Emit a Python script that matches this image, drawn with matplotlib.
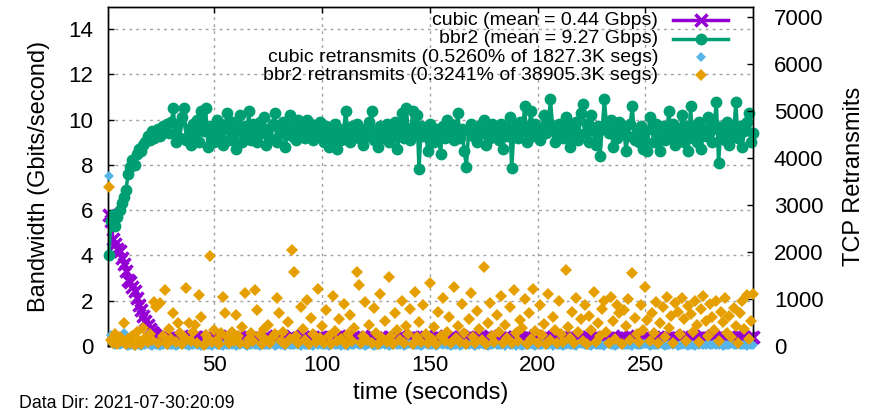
import numpy as np
import matplotlib
matplotlib.use("Agg")
import matplotlib.pyplot as plt

plt.rcParams['font.family'] = ['Liberation Sans', 'DejaVu Sans']

# ---------------- data ----------------
seconds = np.arange(1, 301)

cubic_gbps = [
    5.8, 5.5, 4.7, 4.5, 4.3, 4.2, 3.9, 3.6, 3.3, 2.9,
    2.8, 2.6, 2.4, 2.1, 1.8, 1.6, 1.3, 1.1, 0.9, 0.75,
    0.6, 0.5, 0.45, 0.4, 0.35, 0.3, 0.38, 0.3, 0.33, 0.28,
    0.32, 0.28, 0.36, 0.30, 0.41, 0.27, 0.34, 0.38, 0.29, 0.33,
    0.40, 0.31, 0.26, 0.35, 0.30, 0.37, 0.28, 0.42, 0.32, 0.29,
    0.35, 0.39, 0.27, 0.33, 0.30, 0.36, 0.41, 0.28, 0.34, 0.31,
    0.29, 0.37, 0.33, 0.26, 0.40, 0.32, 0.35, 0.28, 0.38, 0.30,
    0.34, 0.27, 0.36, 0.42, 0.31, 0.29, 0.35, 0.33, 0.39, 0.28,
    0.32, 0.37, 0.30, 0.34, 0.27, 0.41, 0.33, 0.29, 0.36, 0.31,
    0.38, 0.28, 0.35, 0.32, 0.30, 0.40, 0.27, 0.34, 0.37, 0.31,
    0.29, 0.36, 0.33, 0.39, 0.28, 0.35, 0.31, 0.42, 0.30, 0.34,
    0.37, 0.29, 0.32, 0.36, 0.27, 0.40, 0.33, 0.30, 0.38, 0.31,
    0.35, 0.28, 0.41, 0.32, 0.34, 0.29, 0.37, 0.31, 0.36, 0.27,
    0.33, 0.39, 0.30, 0.35, 0.28, 0.42, 0.32, 0.36, 0.29, 0.34,
    0.31, 0.38, 0.27, 0.35, 0.33, 0.40, 0.30, 0.37, 0.28, 0.34,
    0.36, 0.29, 0.41, 0.32, 0.35, 0.30, 0.38, 0.27, 0.33, 0.37,
    0.31, 0.34, 0.28, 0.40, 0.32, 0.36, 0.29, 0.35, 0.42, 0.30,
    0.33, 0.38, 0.27, 0.34, 0.31, 0.37, 0.29, 0.41, 0.32, 0.35,
    0.30, 0.36, 0.33, 0.28, 0.39, 0.31, 0.35, 0.29, 0.37, 0.32,
    0.40, 0.27, 0.34, 0.36, 0.30, 0.38, 0.33, 0.29, 0.42, 0.31,
    0.35, 0.28, 0.37, 0.32, 0.34, 0.30, 0.39, 0.27, 0.36, 0.33,
    0.31, 0.41, 0.29, 0.35, 0.32, 0.37, 0.28, 0.34, 0.38, 0.30,
    0.36, 0.33, 0.27, 0.40, 0.31, 0.35, 0.29, 0.37, 0.32, 0.34,
    0.39, 0.28, 0.36, 0.31, 0.42, 0.30, 0.34, 0.27, 0.38, 0.33,
    0.35, 0.29, 0.37, 0.32, 0.30, 0.41, 0.28, 0.36, 0.34, 0.31,
    0.38, 0.33, 0.29, 0.35, 0.27, 0.40, 0.32, 0.37, 0.30, 0.34,
    0.36, 0.28, 0.42, 0.31, 0.35, 0.29, 0.38, 0.33, 0.27, 0.37,
    0.32, 0.39, 0.30, 0.34, 0.36, 0.28, 0.41, 0.31, 0.35, 0.33,
    0.29, 0.37, 0.32, 0.40, 0.30, 0.36, 0.27, 0.34, 0.38, 0.31,
    0.35, 0.33, 0.29, 0.41, 0.32, 0.37, 0.30, 0.36, 0.34, 0.38,
]

bbr2_gbps = [
    4.0, 5.5, 5.8, 5.3, 5.7, 6.0, 6.3, 6.6, 6.9, 7.6,
    7.9, 8.2, 8.0, 8.5, 8.7, 8.6, 8.9, 9.0, 9.3, 9.1,
    9.5, 9.2, 9.4, 9.6, 9.3, 9.7, 9.5, 9.8, 9.4, 9.9,
    10.5, 9.0, 9.8, 9.2, 10.1, 10.5, 9.1, 9.6, 8.9, 9.8,
    9.3, 10.0, 9.0, 10.4, 9.5, 10.5, 8.8, 9.7, 9.4, 9.0,
    10.0, 9.2, 9.8, 8.9, 9.6, 10.3, 9.1, 9.9, 9.4, 8.7,
    9.5, 10.2, 9.0, 9.7, 9.3, 10.4, 9.1, 9.8, 9.5, 9.0,
    9.9, 9.4, 10.1, 8.9, 9.6, 9.2, 9.8, 10.3, 9.0, 9.7,
    9.4, 9.9, 8.8, 9.6, 10.2, 9.3, 9.7, 9.1, 10.0, 9.5,
    9.6, 9.2, 10.0, 9.4, 9.8, 9.1, 9.6, 9.3, 9.9, 9.5,
    9.0, 9.7, 8.8, 9.4, 9.2, 9.8, 8.7, 9.5, 9.1, 9.6,
    10.4, 9.3, 9.0, 9.7, 9.4, 9.8, 9.2, 9.5, 8.9, 9.6,
    9.3, 9.9, 10.4, 9.1, 9.5, 8.8, 9.7, 9.2, 9.4, 9.8,
    9.0, 9.6, 9.3, 9.9, 8.7, 9.5, 10.3, 9.2, 10.5, 9.6,
    9.1, 10.4, 9.4, 10.2, 7.8, 9.7, 9.3, 9.6, 8.6, 9.8,
    9.4, 9.0, 9.6, 9.3, 8.5, 9.7, 9.2, 10.0, 9.4, 9.8,
    9.1, 9.5, 10.3, 9.2, 9.6, 8.6, 7.9, 9.5, 9.8, 9.3,
    9.6, 9.0, 9.7, 9.4, 10.0, 8.9, 9.5, 9.2, 9.8, 9.4,
    9.6, 9.1, 9.8, 8.7, 9.5, 9.3, 10.1, 7.85, 9.4, 9.7,
    9.2, 9.9, 9.5, 10.6, 9.0, 9.7, 10.4, 9.3, 9.8, 9.5,
    9.1, 9.6, 10.2, 9.4, 9.9, 10.9, 9.7, 9.0, 9.3, 9.8,
    9.5, 9.2, 10.1, 9.4, 8.8, 9.7, 9.3, 9.9, 9.1, 10.3,
    10.7, 9.4, 9.8, 9.0, 10.2, 9.5, 8.9, 9.7, 8.4, 9.6,
    10.9, 9.8, 9.4, 10.0, 8.8, 9.5, 9.2, 9.9, 9.4, 9.7,
    8.6, 9.3, 9.8, 10.6, 9.1, 9.4, 9.0, 9.7, 8.7, 9.5,
    8.6, 10.1, 9.6, 9.0, 9.8, 9.3, 8.6, 9.7, 9.1, 9.5,
    10.4, 9.2, 9.8, 8.9, 9.6, 9.3, 10.2, 9.0, 9.7, 8.6,
    10.6, 9.2, 9.7, 9.0, 9.9, 8.7, 9.6, 9.3, 10.1, 9.5,
    9.0, 9.8, 10.8, 8.1, 9.4, 9.7, 9.1, 9.9, 8.9, 9.6,
    9.3, 10.8, 9.2, 9.7, 8.8, 9.5, 9.9, 10.3, 9.0, 9.4,
]

cubic_retrans = [
    3610, 228, 45, 20, 60, 10, 30, 277, 15, 0,
    5, 20, 0, 35, 10, 0, 25, 15, 40, 5,
    0, 30, 10, 20, 0, 15, 35, 5, 25, 10,
    20, 0, 15, 30, 5, 40, 10, 0, 25, 15,
    35, 5, 20, 0, 30, 10, 15, 25, 0, 40,
    10, 25, 5, 0, 35, 15, 20, 10, 30, 0,
    15, 5, 40, 20, 0, 25, 10, 35, 5, 15,
    0, 30, 20, 10, 25, 5, 40, 0, 15, 30,
    25, 10, 0, 35, 15, 20, 5, 30, 10, 0,
    40, 15, 25, 5, 20, 0, 35, 10, 30, 15,
    5, 25, 0, 20, 40, 10, 15, 35, 0, 25,
    20, 0, 30, 15, 5, 35, 25, 10, 40, 0,
    10, 35, 15, 0, 25, 20, 5, 30, 15, 40,
    0, 20, 10, 30, 5, 25, 40, 0, 15, 35,
    30, 5, 25, 10, 20, 0, 15, 40, 25, 5,
    15, 40, 0, 25, 35, 10, 30, 5, 20, 0,
    25, 10, 35, 0, 15, 30, 20, 5, 40, 10,
    0, 30, 20, 40, 5, 15, 0, 25, 10, 35,
    20, 5, 15, 30, 0, 40, 10, 20, 35, 0,
    35, 15, 0, 10, 25, 5, 30, 15, 0, 20,
    10, 25, 40, 5, 15, 30, 0, 35, 20, 10,
    5, 0, 20, 35, 10, 25, 15, 0, 30, 40,
    30, 20, 5, 15, 0, 35, 25, 10, 5, 20,
    0, 40, 30, 20, 10, 0, 15, 30, 25, 5,
    15, 10, 25, 0, 40, 20, 5, 15, 35, 30,
    40, 0, 10, 25, 20, 15, 35, 5, 0, 25,
    5, 30, 15, 35, 0, 10, 20, 40, 15, 0,
    20, 15, 0, 30, 5, 35, 10, 25, 40, 15,
    10, 35, 20, 5, 30, 0, 25, 15, 10, 35,
    25, 5, 40, 15, 10, 20, 0, 30, 5, 20,
]

bbr2_retrans = [
    3380, 120, 60, 250, 40, 180, 90, 476, 30, 150,
    60, 210, 20, 300, 100, 40, 380, 160, 70, 250,
    120, 930, 830, 60, 910, 200, 1185, 40, 350, 150,
    690, 80, 483, 260, 30, 190, 1228, 483, 110, 300,
    440, 60, 1079, 617, 20, 230, 150, 1908, 80, 340,
    120, 40, 260, 1043, 690, 180, 50, 300, 100, 653,
    200, 60, 400, 1115, 30, 150, 280, 90, 1185, 760,
    220, 40, 350, 130, 440, 60, 180, 250, 1015, 690,
    100, 300, 40, 500, 150, 2040, 1570, 200, 60, 820,
    350, 120, 980, 30, 600, 250, 80, 1200, 160, 420,
    60, 750, 200, 40, 1050, 310, 90, 560, 150, 880,
    30, 240, 660, 100, 380, 1570, 1290, 50, 200, 930,
    120, 450, 60, 800, 280, 30, 1100, 170, 520, 70,
    1460, 200, 40, 690, 330, 120, 950, 60, 410, 240,
    780, 30, 1150, 180, 500, 80, 860, 250, 60, 1330,
    140, 390, 40, 720, 200, 1010, 90, 300, 620, 50,
    1240, 160, 420, 70, 880, 280, 30, 560, 1130, 190,
    60, 740, 350, 120, 1670, 40, 480, 900, 210, 80,
    650, 300, 1060, 50, 430, 170, 820, 60, 1180, 260,
    90, 540, 380, 1000, 40, 700, 150, 1210, 310, 60,
    860, 220, 470, 30, 1090, 130, 610, 340, 60, 950,
    250, 80, 1606, 400, 160, 720, 50, 1020, 290, 560,
    110, 870, 40, 640, 330, 1140, 70, 480, 200, 790,
    950, 300, 60, 1040, 520, 150, 870, 690, 40, 760,
    420, 1000, 130, 1540, 600, 250, 80, 866, 330, 1255,
    540, 100, 700, 280, 930, 60, 480, 820, 190, 1043,
    370, 640, 50, 900, 720, 240, 1010, 560, 110, 850,
    680, 300, 960, 450, 70, 790, 1060, 520, 200, 880,
    610, 340, 950, 90, 720, 500, 1020, 260, 640, 180,
    800, 420, 60, 690, 960, 350, 1079, 150, 520, 1100,
]

legend_labels = [
    "cubic (mean = 0.44 Gbps)",
    "bbr2 (mean = 9.27 Gbps)",
    "cubic retransmits (0.5260% of 1827.3K segs)",
    "bbr2 retransmits (0.3241% of 38905.3K segs)",
]
x_ticks = [50, 100, 150, 200, 250]
y_ticks = [0, 2, 4, 6, 8, 10, 12, 14]
y2_ticks = [0, 1000, 2000, 3000, 4000, 5000, 6000, 7000]
data_dir_text = "Data Dir: 2021-07-30:20:09"

# ---------------- style ----------------
c_cubic = '#9400d3'
c_bbr2 = '#009e73'
c_cret = '#56b4e9'
c_bret = '#e69f00'

fig = plt.figure(figsize=(8.79, 4.12), dpi=100)
ax = fig.add_axes([0.12253, 0.16092, 0.73413, 0.82282])
ax2 = ax.twinx()

ax.set_xlim(0.5, 300)
ax.set_ylim(0, 15)
ax2.set_ylim(0, 7213)

ax.set_axisbelow(True)
ax.grid(True, color='#a0a0a0', linestyle=(0, (2, 3)), linewidth=1.0)

st_cubic = dict(color=c_cubic, lw=2.5, marker='x', ms=8, mew=2.5)
st_bbr2 = dict(color=c_bbr2, lw=2.5, marker='o', ms=8.5, mew=0)
st_cret = dict(color=c_cret, linestyle='none', marker='D', ms=5.5, mew=0)
st_bret = dict(color=c_bret, linestyle='none', marker='D', ms=6.5, mew=0)

ax.plot(seconds, cubic_gbps, clip_on=False, zorder=3, **st_cubic)
ax.plot(seconds, bbr2_gbps, clip_on=False, zorder=3, **st_bbr2)
ax2.plot(seconds, cubic_retrans, clip_on=False, zorder=3, **st_cret)
ax2.plot(seconds, bbr2_retrans, clip_on=False, zorder=4, **st_bret)

ax.set_xticks(x_ticks)
ax.set_yticks(y_ticks)
ax2.set_yticks(y2_ticks)

ax.tick_params(axis='both', direction='in', length=4, width=1, labelsize=16,
               top=True, right=False)
ax.tick_params(axis='y', pad=10.4)
ax.tick_params(axis='x', pad=6.7)
ax2.tick_params(axis='y', direction='in', length=4, width=1, labelsize=16, pad=15)

for a in (ax, ax2):
    for s in a.spines.values():
        s.set_linewidth(1.0)

ax.set_xlabel("time (seconds)", fontsize=17, labelpad=4)
ax.set_ylabel("Bandwidth (Gbits/second)", fontsize=17, labelpad=13)
ax2.set_ylabel("TCP Retransmits", fontsize=17, labelpad=14)

fig.text(19 / 879, 1 - 404 / 412, data_dir_text, fontsize=12.8, ha='left', va='center')

# ---------------- legend (gnuplot-style, right-justified text) ----------------
rows_y = [0.9593, 0.9053, 0.8513, 0.7973]
text_x = 0.8528
line_x0, line_xm, line_x1 = 0.8761, 0.9187, 0.9613
tr = ax2.transAxes
styles = [st_cubic, st_bbr2, st_cret, st_bret]
for lab, yy, st in zip(legend_labels, rows_y, styles):
    ax2.text(text_x, yy, lab, transform=tr, ha='right', va='center', fontsize=14, zorder=6)
    if st.get('linestyle') == 'none':
        ax2.plot([line_xm], [yy], transform=tr, clip_on=False, zorder=6, **st)
    else:
        ax2.plot([line_x0, line_xm, line_x1], [yy, yy, yy], transform=tr,
                 markevery=[1], clip_on=False, zorder=6, **st)

fig.savefig("out.png", dpi=100)
